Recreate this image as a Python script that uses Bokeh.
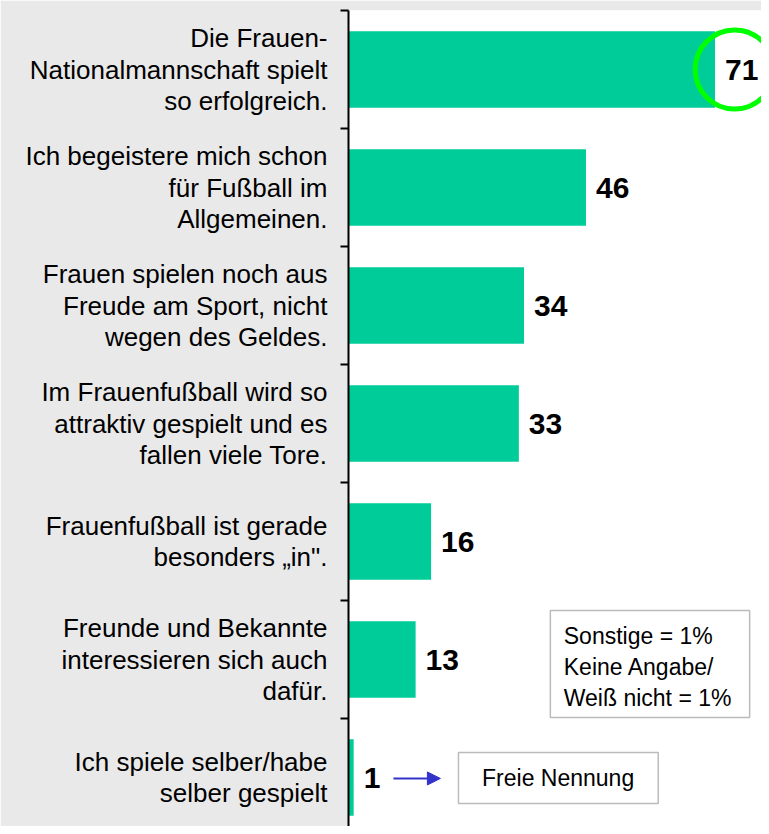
from bokeh.plotting import figure
from bokeh.models import Range1d, FixedTicker, Label, BoxAnnotation, Arrow, NormalHead
from bokeh.core.properties import value
from bokeh.embed import file_html
from bokeh.resources import INLINE

# ---------------- data ----------------
categories = [
    "Die Frauen-\nNationalmannschaft spielt\nso erfolgreich.",
    "Ich begeistere mich schon\nfür Fußball im\nAllgemeinen.",
    "Frauen spielen noch aus\nFreude am Sport, nicht\nwegen des Geldes.",
    "Im Frauenfußball wird so\nattraktiv gespielt und es\nfallen viele Tore.",
    "Frauenfußball ist gerade\nbesonders „in\".",
    "Freunde und Bekannte\ninteressieren sich auch\ndafür.",
    "Ich spiele selber/habe\nselber gespielt",
]
values = [71, 46, 34, 33, 16, 13, 1]
note_lines = ["Sonstige = 1%", "Keine Angabe/", "Weiß nicht = 1%"]
free_note = "Freie Nennung"

# ---------------- layout / style ----------------
W, H = 761, 826
LEFT, RIGHT, TOP, BOTTOM = 348, 0, 10, 0
ROW_PX = 118
XMAX = 80
GRAY = "#E9E9E9"
BAR = "#00CC99"
BLUE = "#3333CC"
FONT = "Liberation Sans"

n = len(categories)
centers = [n - 0.5 - i for i in range(n)]
y_start = n - (H - TOP - BOTTOM) / ROW_PX

p = figure(width=W, height=H, output_backend="svg", toolbar_location=None,
           x_range=Range1d(0, XMAX), y_range=Range1d(y_start, n),
           min_border_left=LEFT, min_border_right=RIGHT,
           min_border_top=TOP, min_border_bottom=BOTTOM)
p.border_fill_color = GRAY
p.background_fill_color = "white"
p.outline_line_color = None
p.xgrid.visible = False
p.ygrid.visible = False
p.xaxis.visible = False

# y axis: labels at row centres, tick marks (minor ticks) at row boundaries
yax = p.yaxis[0]
yax.ticker = FixedTicker(ticks=centers, minor_ticks=list(range(n + 1)))
yax.major_label_overrides = {c: cat for c, cat in zip(centers, categories)}
yax.major_label_text_font = FONT
yax.major_label_text_font_size = "26px"
yax.major_label_text_line_height = 1.05
yax.major_label_text_color = "black"
yax.major_label_text_align = "right"
yax.major_label_standoff = 13
yax.major_tick_line_color = None
yax.major_tick_out = 0
yax.major_tick_in = 0
yax.minor_tick_line_color = "black"
yax.minor_tick_line_width = 2
yax.minor_tick_out = 8
yax.minor_tick_in = 0
yax.axis_line_width = 2
yax.axis_line_color = "black"

# bars
p.hbar(y=centers, right=values, left=0, height=0.65, fill_color=BAR, line_color=None)

# value labels
p.text(x=values, y=centers, text=[str(v) for v in values], x_offset=10,
       text_baseline="middle", text_align="left",
       text_font=value(FONT), text_font_size="30px", text_font_style="bold",
       text_color="black")

# highlight ring around the top value
p.scatter(x=[values[0] + 3.8], y=[centers[0]], size=79, marker="circle",
          fill_color=None, line_color="#00FF00", line_width=5)

# note box (Sonstige)
p.add_layout(BoxAnnotation(left=39.1, right=77.7, bottom=centers[5] - 0.492, top=centers[5] + 0.415,
                           fill_color="white", fill_alpha=1, line_color="#BBBBBB",
                           line_width=1.5, line_alpha=1))
nl_h = 31 / ROW_PX
for i, ln in enumerate(note_lines):
    p.add_layout(Label(x=41.7, y=centers[5] + 0.203 - i * nl_h, text=ln,
                       text_align="left", text_baseline="middle", text_font=FONT,
                       text_font_size="23px", text_color="black"))

# free mention box + arrow
p.add_layout(BoxAnnotation(left=21.3, right=60.0, bottom=centers[6] - 0.22, top=centers[6] + 0.212,
                           fill_color="white", fill_alpha=1, line_color="#BBBBBB",
                           line_width=1.5, line_alpha=1))
p.add_layout(Label(x=40.6, y=centers[6] - 0.008, text=free_note, text_align="center",
                   text_baseline="middle", text_font=FONT, text_font_size="23px",
                   text_color="black"))
p.add_layout(Arrow(x_start=values[6] + 7.7, y_start=centers[6] - 0.008,
                   x_end=values[6] + 16.8, y_end=centers[6] - 0.008,
                   line_color=BLUE, line_width=2,
                   end=NormalHead(size=13, fill_color=BLUE, line_color=BLUE)))

open("out.html", "w").write(file_html(p, INLINE))
